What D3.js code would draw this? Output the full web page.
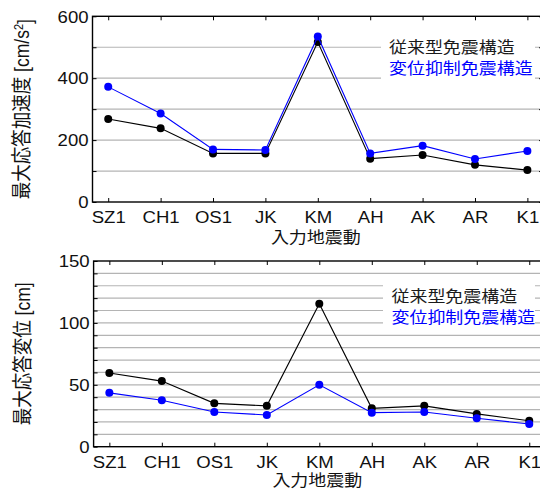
<!DOCTYPE html>
<html lang="ja">
<head>
  <meta charset="UTF-8">
  <title>最大応答加速度・変位</title>
  <script src="https://d3js.org/d3.v7.min.js"></script>
  <style>
    * { margin: 0; padding: 0; box-sizing: border-box; }
    body { background: #fff; width: 540px; height: 489px; overflow: hidden; }
    svg { display: block; font-family: 'Liberation Sans', Arial, 'Noto Sans CJK JP', sans-serif; }
    .jp { font-family: 'Noto Sans CJK JP', sans-serif; }
  </style>
</head>
<body>
  <div id="chart"></div>

  <script>
    // data
    const categories = ["SZ1", "CH1", "OS1", "JK", "KM", "AH", "AK", "AR", "K1"];
    const accConventional = [268, 238, 157, 157, 517, 140, 152, 120, 103];
    const accRestrained   = [372, 286, 170, 168, 535, 157, 182, 139, 165];
    const dispConventional = [59.5, 53, 35, 33, 115.5, 31, 33, 26.5, 21];
    const dispRestrained   = [43.5, 37.5, 28, 25.6, 50, 27.5, 28, 23, 18.3];
    const seriesNames = ["従来型免震構造", "変位抑制免震構造"];
    const seriesColors = ["#000000", "#0000ff"];

    const SX = 1.16; // the picture is slightly stretched horizontally

    const svg = d3.select("#chart").append("svg")
      .attr("width", 540)
      .attr("height", 489);

    const drawPanel = (cfg) => {
      const { left, right, top, bottom, yMax, gridStep, labelStep, yLabelJp, yLabelUnit, yLabelSup, yLabelX, legend, xLabelY, series } = cfg;

      const x = d3.scalePoint()
        .domain(categories)
        .range([left, right])
        .padding(0.3);

      const y = d3.scaleLinear()
        .domain([0, yMax])
        .range([bottom, top]);

      const g = svg.append("g");
      const gridVals = d3.range(gridStep, yMax, gridStep);

      // horizontal grid
      g.append("g").selectAll("line")
        .data(gridVals)
        .join("line")
        .attr("x1", left).attr("x2", right)
        .attr("y1", d => y(d)).attr("y2", d => y(d))
        .attr("stroke", "#b4b4b4")
        .attr("stroke-width", 1.2);

      // series lines + markers
      series.forEach((vals, i) => {
        const pts = categories.map((c, j) => [x(c), y(vals[j])]);
        g.append("path")
          .datum(pts)
          .attr("fill", "none")
          .attr("stroke", seriesColors[i])
          .attr("stroke-width", 1.1)
          .attr("d", d3.line());
        g.append("g").selectAll("circle")
          .data(pts)
          .join("circle")
          .attr("cx", d => d[0])
          .attr("cy", d => d[1])
          .attr("r", 4)
          .attr("fill", seriesColors[i]);
      });

      // axes (ticks inside like the original)
      const allY = d3.range(0, yMax + gridStep / 2, gridStep);

      const bottomAxis = g.append("g")
        .attr("transform", `translate(0,${bottom})`)
        .call(d3.axisBottom(x).tickSizeInner(-4).tickSizeOuter(0).tickPadding(0));
      bottomAxis.selectAll("text")
        .attr("y", 21)
        .attr("dy", 0)
        .attr("font-size", 16)
        .attr("fill", "#111")
        .attr("transform", `scale(${SX},1)`);

      g.append("g")
        .attr("transform", `translate(0,${top})`)
        .call(d3.axisTop(x).tickSizeInner(-4).tickSizeOuter(0).tickFormat(""));

      const leftAxis = g.append("g")
        .attr("transform", `translate(${left},0)`)
        .call(d3.axisLeft(y).tickValues(allY).tickSizeInner(-4).tickSizeOuter(0)
          .tickFormat(d => d % labelStep === 0 ? d : ""));
      leftAxis.selectAll("text")
        .attr("x", -4 / SX)
        .attr("dy", "0.36em")
        .attr("font-size", 16)
        .attr("fill", "#111")
        .attr("transform", `scale(${SX},1)`);

      g.append("g")
        .attr("transform", `translate(${right},0)`)
        .call(d3.axisRight(y).tickValues(allY).tickSizeInner(-4).tickSizeOuter(0).tickFormat(""));

      g.selectAll(".domain").remove();
      g.selectAll(".tick line").attr("stroke", "#000").attr("stroke-width", 1);

      // frame
      g.append("rect")
        .attr("x", left).attr("y", top)
        .attr("width", right - left).attr("height", bottom - top)
        .attr("fill", "none")
        .attr("stroke", "#000")
        .attr("stroke-width", 1.4);

      // legend
      g.append("rect")
        .attr("x", legend.x0).attr("y", legend.y0)
        .attr("width", legend.x1 - legend.x0).attr("height", legend.y1 - legend.y0)
        .attr("fill", "#fff");
      seriesNames.forEach((name, i) => {
        g.append("text")
          .attr("class", "jp")
          .attr("transform", `translate(${legend.tx},${legend.ty + i * 21}) scale(${SX},1)`)
          .attr("font-size", 15.5)
          .attr("fill", i === 0 ? "#1a1a1a" : seriesColors[1])
          .text(name);
      });

      // x label
      g.append("text")
        .attr("class", "jp")
        .attr("transform", `translate(${(left + right) / 2 - 2},${xLabelY}) scale(${SX},1)`)
        .attr("text-anchor", "middle")
        .attr("font-size", 15.5)
        .attr("fill", "#111")
        .text("入力地震動");

      // y label
      const yl = g.append("text")
        .attr("transform", `translate(${yLabelX},${(top + bottom) / 2}) scale(${SX},1) rotate(-90)`)
        .attr("text-anchor", "middle")
        .attr("font-size", 17.5)
        .attr("fill", "#111");
      yl.append("tspan").attr("class", "jp").text(yLabelJp);
      yl.append("tspan").text(yLabelUnit);
      if (yLabelSup) {
        yl.append("tspan").attr("dy", "-0.45em").attr("font-size", 11).text(yLabelSup);
        yl.append("tspan").attr("dy", "0.45em").text("]");
      }
    };

    drawPanel({
      left: 92.5, right: 543.1, top: 16.3, bottom: 202,
      yMax: 600, gridStep: 100, labelStep: 200,
      yLabelJp: "最大応答加速度", yLabelUnit: " [cm/s", yLabelSup: "2", yLabelX: 29,
      legend: { x0: 381, x1: 535, y0: 30, y1: 85, tx: 389, ty: 53 },
      xLabelY: 243,
      series: [accConventional, accRestrained]
    });

    drawPanel({
      left: 93.6, right: 545, top: 261, bottom: 446.7,
      yMax: 150, gridStep: 10, labelStep: 50,
      yLabelJp: "最大応答変位", yLabelUnit: " [cm]", yLabelSup: null, yLabelX: 30,
      legend: { x0: 383, x1: 535, y0: 277, y1: 333, tx: 391.5, ty: 302 },
      xLabelY: 486,
      series: [dispConventional, dispRestrained]
    });
  </script>
</body>
</html>
